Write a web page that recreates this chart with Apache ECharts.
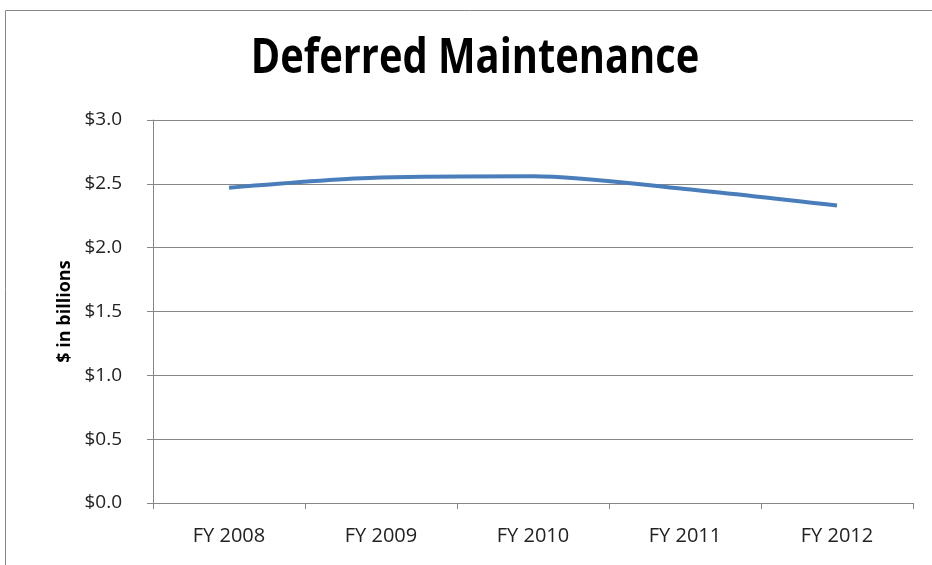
<!DOCTYPE html>
<html>
<head>
<meta charset="utf-8">
<script src="https://cdn.jsdelivr.net/npm/echarts@6/dist/echarts.min.js"></script>
<style>html,body{margin:0;padding:0;background:#fff}#c{width:932px;height:565px}</style>
</head>
<body>
<div id="c"></div>
<script>
const titleText = 'Deferred Maintenance';
const categories = ['FY 2008', 'FY 2009', 'FY 2010', 'FY 2011', 'FY 2012'];
const deferred = [2.47, 2.55, 2.56, 2.46, 2.33];
const chart = echarts.init(document.getElementById('c'));
chart.setOption({
  animation: false,
  backgroundColor: '#fff',
  graphic: [{
    type: 'rect', shape: {x: 5.5, y: 10.5, width: 950, height: 600},
    style: {fill: 'none', stroke: '#868686', lineWidth: 1}, z: -1
  }, {
    type: 'text', x: 475, y: 59, scaleX: 0.83,
    style: {text: titleText, x: 0, y: 0, align: 'center', verticalAlign: 'middle',
      font: 'bold 48px "Open Sans"', fill: '#000'}
  }],
  grid: {left: 153, right: 19, top: 120, bottom: 62},
  xAxis: {
    type: 'category', data: categories, boundaryGap: true,
    axisLine: {lineStyle: {color: '#868686', width: 1}},
    axisTick: {show: true, length: 6, lineStyle: {color: '#868686'}},
    axisLabel: {color: '#222', fontFamily: 'Open Sans', fontSize: 20, margin: 23}
  },
  yAxis: {
    type: 'value', min: 0, max: 3, interval: 0.5,
    name: '$ in billions', nameLocation: 'middle', nameGap: 79, nameRotate: 90,
    nameTextStyle: {fontFamily: 'Open Sans', fontWeight: 'bold', fontSize: 18, color: '#000'},
    axisLine: {show: true, lineStyle: {color: '#868686'}},
    axisTick: {show: true, length: 6, lineStyle: {color: '#868686'}},
    splitLine: {lineStyle: {color: '#868686', width: 1}},
    axisLabel: {color: '#222', fontFamily: 'Open Sans', fontSize: 19, margin: 31,
      formatter: v => '$' + v.toFixed(1)}
  },
  series: [{
    type: 'line', data: deferred, smooth: 0.3, symbol: 'none',
    lineStyle: {color: '#4a7ebb', width: 4}
  }]
});
</script>
</body>
</html>
